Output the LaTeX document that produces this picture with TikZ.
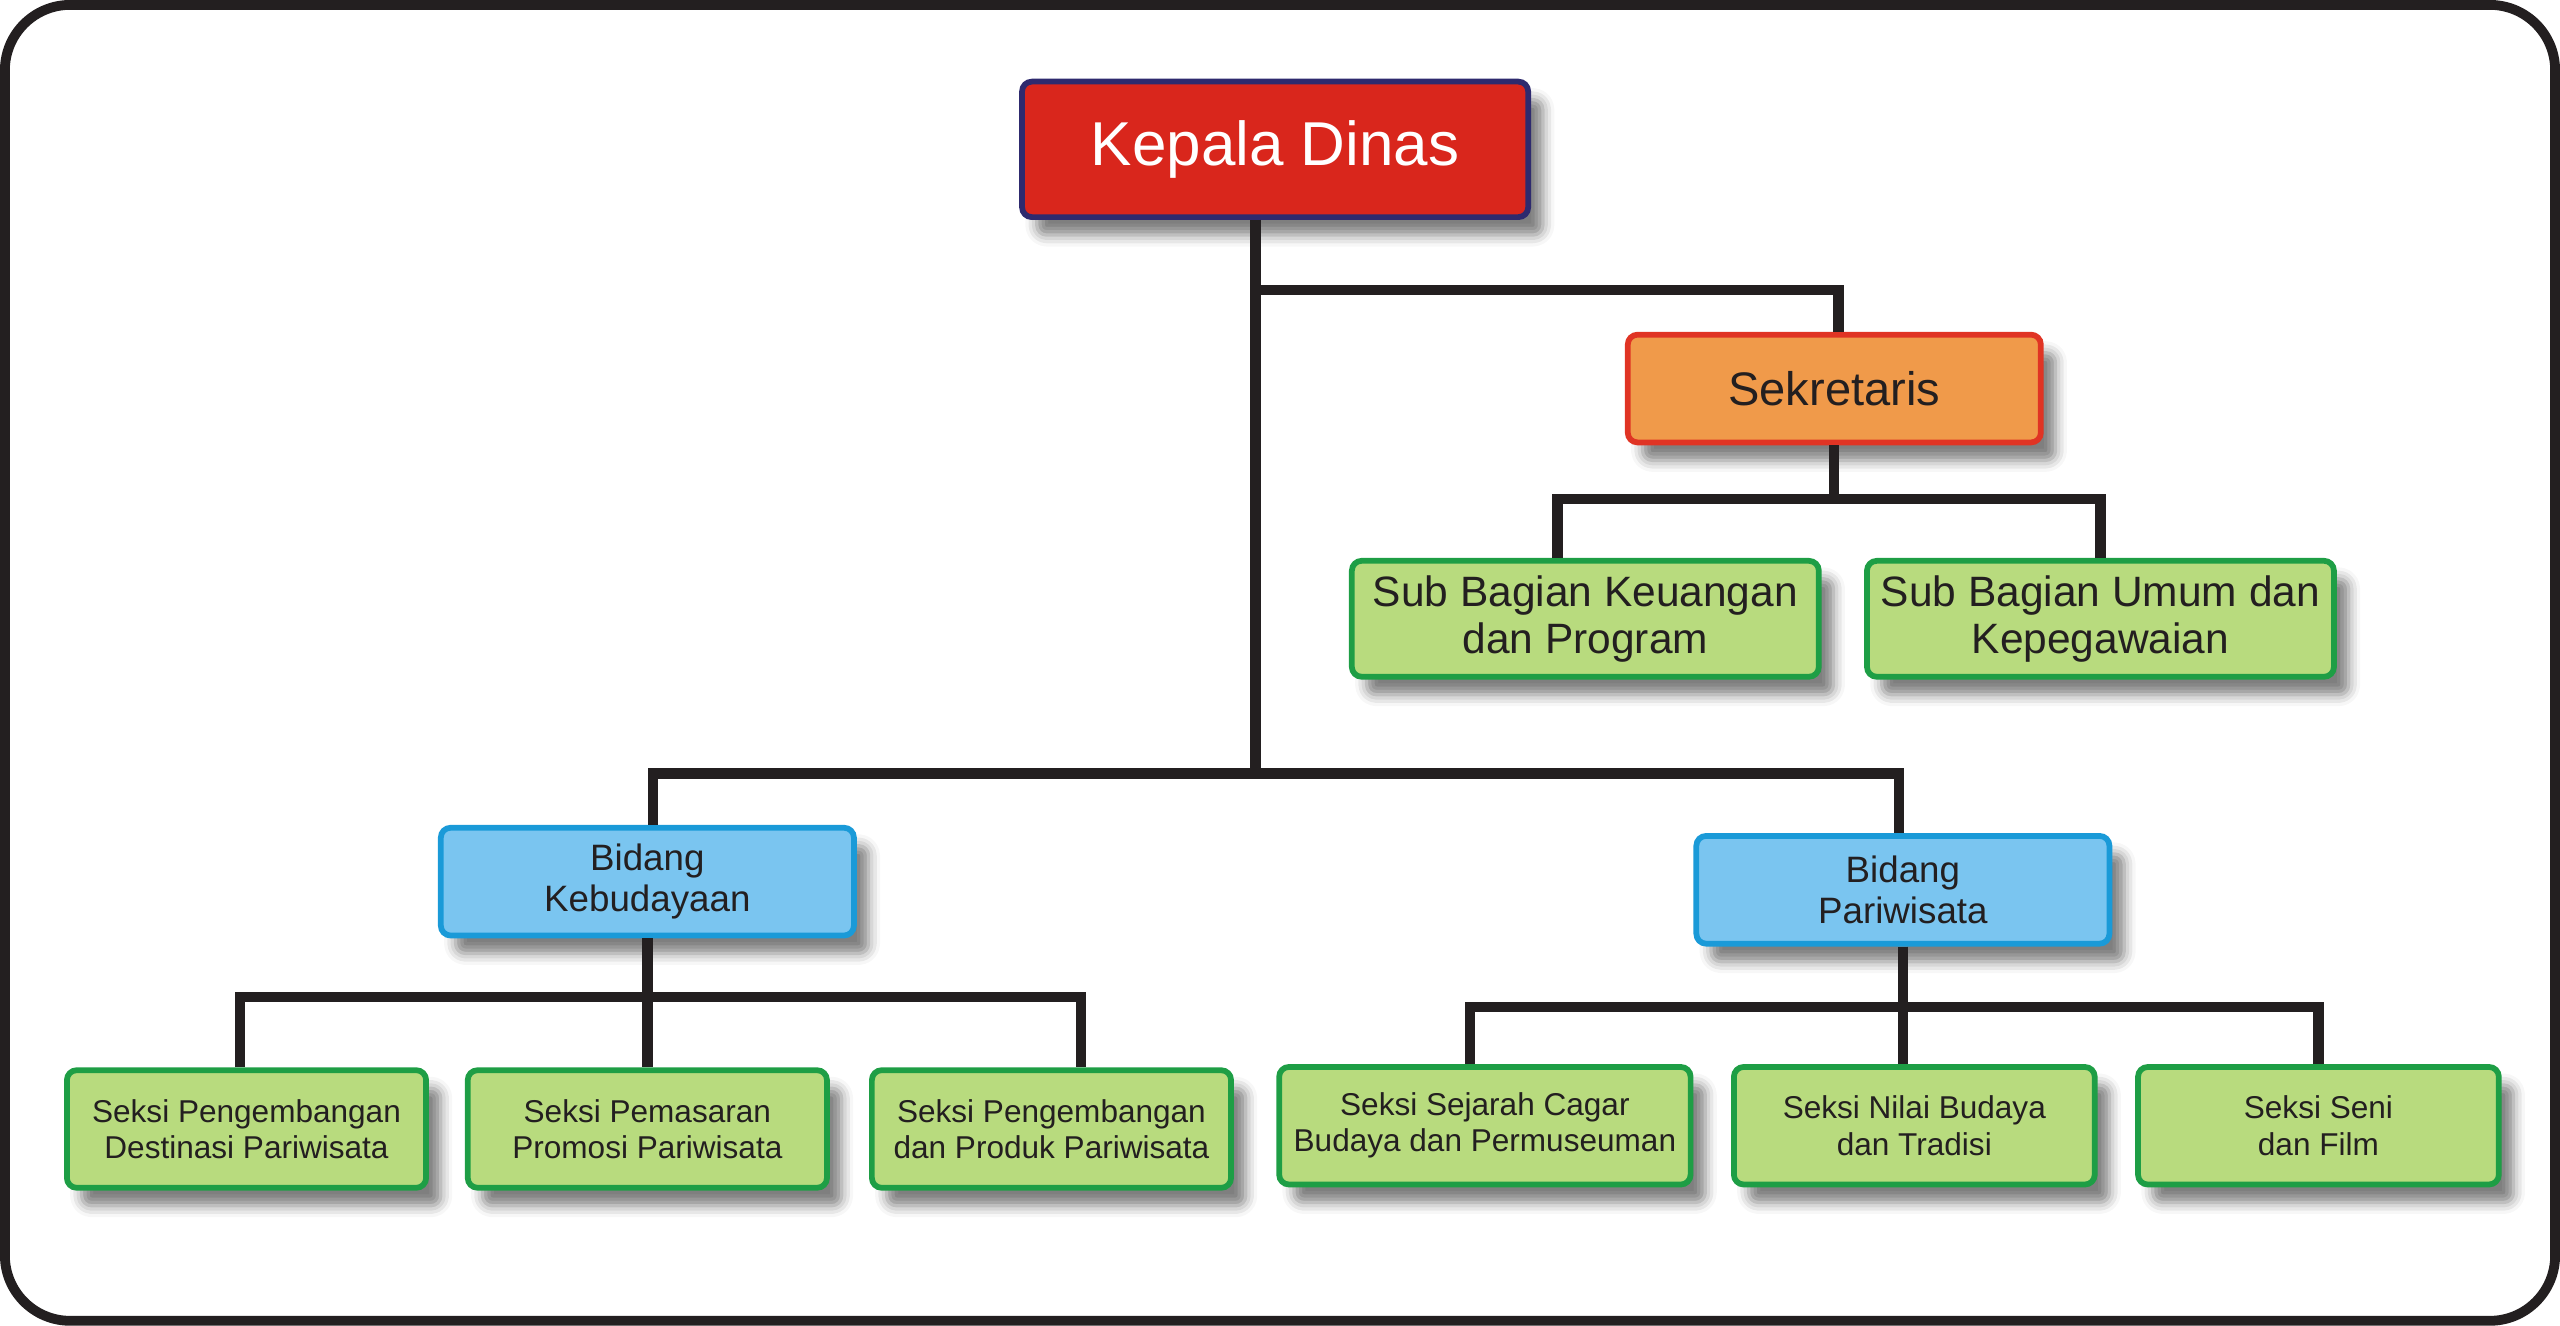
\documentclass[tikz,border=0pt]{standalone}
\usepackage{fontspec}
\setmainfont{Liberation Sans}
\usetikzlibrary{positioning, shadows.blur}
\definecolor{kepalafill}{HTML}{D9261C}
\definecolor{kepalaedge}{HTML}{2E2A6E}
\definecolor{sekfill}{HTML}{F09A4A}
\definecolor{sekedge}{HTML}{E03424}
\definecolor{subfill}{HTML}{B8DB7E}
\definecolor{subedge}{HTML}{1E9E45}
\definecolor{bidfill}{HTML}{7AC5F0}
\definecolor{bidedge}{HTML}{1A9AD8}
\definecolor{linedark}{HTML}{231F20}
\tikzset{
    boxshadow/.style = {blur shadow={shadow xshift=0.09cm, shadow yshift=-0.11cm, shadow blur radius=0.07cm, shadow opacity=50}},
    orgbox/.style = {rectangle, rounded corners=0.06cm, align=center, inner sep=0.04cm, line width=1pt, text=linedark, boxshadow},
    kepalabox/.style = {orgbox, minimum width=3.1cm, minimum height=0.83cm, draw=kepalaedge, fill=kepalafill, text=white, font=\fontsize{10.8}{13}\selectfont},
    sekbox/.style = {orgbox, minimum width=2.53cm, minimum height=0.66cm, draw=sekedge, fill=sekfill, font=\fontsize{8.2}{9.5}\selectfont},
    subbox/.style = {orgbox, minimum width=2.86cm, minimum height=0.71cm, draw=subedge, fill=subfill, font=\fontsize{7.4}{8.25}\selectfont},
    bidbox/.style = {orgbox, minimum width=2.53cm, minimum height=0.66cm, draw=bidedge, fill=bidfill, font=\fontsize{6.4}{7.2}\selectfont},
    seksibox/.style = {orgbox, minimum width=2.2cm, minimum height=0.72cm, draw=subedge, fill=subfill, font=\fontsize{5.5}{6.3}\selectfont},
    link/.style = {line width=1.8pt, draw=linedark},
    frame/.style = {line width=0.06cm, draw=linedark, rounded corners=0.4cm}
}
\begin{document}
\begin{tikzpicture}

\useasboundingbox (0,0) rectangle (15.68,-8.12);
\draw [frame] (0.03,-0.03) rectangle (15.65,-8.09);

% Top level
\node (kepala) [kepalabox] at (7.81,-0.915) {Kepala Dinas};
\node (sekretaris) [sekbox] at (11.235,-2.38) {Sekretaris};
\node (sub1) [subbox, below=0.69cm of sekretaris, xshift=-1.525cm] {Sub Bagian Keuangan\\dan Program};
\node (sub2) [subbox, right=0.26cm of sub1] {Sub Bagian Umum dan\\Kepegawaian};

% Bidang
\node (bidkeb) [bidbox] at (3.965,-5.40) {Bidang\\Kebudayaan};
\node (bidpar) [bidbox] at (11.655,-5.45) {Bidang\\Pariwisata};

% Seksi - Kebudayaan
\node (seksi2) [seksibox, below=0.79cm of bidkeb] {Seksi Pemasaran\\Promosi Pariwisata};
\node (seksi1) [seksibox, left=0.22cm of seksi2] {Seksi Pengembangan\\Destinasi Pariwisata};
\node (seksi3) [seksibox, right=0.24cm of seksi2] {Seksi Pengembangan\\dan Produk Pariwisata};

% Seksi - Pariwisata
\node (seksi5) [seksibox, below=0.72cm of bidpar, xshift=0.07cm, minimum width=2.21cm] {Seksi Nilai Budaya\\dan Tradisi};
\node (seksi4) [seksibox, left=0.23cm of seksi5, minimum width=2.52cm] {Seksi Sejarah Cagar\\Budaya dan Permuseuman};
\node (seksi6) [seksibox, right=0.23cm of seksi5, minimum width=2.21cm] {Seksi Seni\\dan Film};

% Connections - kepala
\draw [link] ([xshift=-0.12cm]kepala.south) -- ++(0,-0.43) -| ([xshift=0.025cm]sekretaris.north);
\draw [link] ([xshift=-0.12cm]kepala.south) -- ++(0,-3.39) coordinate (bus);
\draw [link] ([xshift=0.035cm]bidkeb.north) |- (bus) -| ([xshift=-0.025cm]bidpar.north);

% Connections - sekretaris
\draw [link] (sekretaris.south) -- ++(0,-0.33) coordinate (sekbus);
\draw [link] ([xshift=-0.17cm]sub1.north) |- (sekbus) -| (sub2.north);

% Connections - bidang
\draw [link] (bidkeb.south) -- ++(0,-0.36) coordinate (kebbus);
\draw [link] ([xshift=-0.04cm]seksi1.north) |- (kebbus) -| ([xshift=0.18cm]seksi3.north);
\draw [link] (kebbus) -- (kebbus |- seksi2.north);

\draw [link] (bidpar.south) -- ++(0,-0.37) coordinate (parbus);
\draw [link] ([xshift=-0.09cm]seksi4.north) |- (parbus) -| (seksi6.north);
\draw [link] (parbus) -- (parbus |- seksi5.north);

\end{tikzpicture}
\end{document}
